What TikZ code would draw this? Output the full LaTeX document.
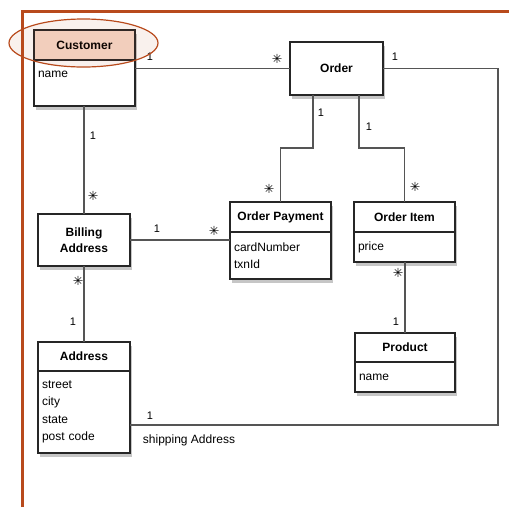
\documentclass[tikz,border=0pt]{standalone}
\usepackage{fontspec}
\setmainfont{Liberation Sans}
\newfontfamily\starfont{DejaVu Sans}
\usetikzlibrary{positioning,shadows}
\definecolor{rust}{RGB}{184,74,28}
\definecolor{peach}{RGB}{247,218,202}
\definecolor{wiregray}{RGB}{85,85,85}

\begin{document}
\begin{tikzpicture}[x=1pt,y=-1pt]
  \tikzstyle{every node}=[font=\fontsize{12}{17.5}\selectfont]
  \tikzstyle{box}=[draw=black!85,line width=1.3pt,fill=white,outer sep=0pt,
    drop shadow={opacity=.45,shadow xshift=1.5pt,shadow yshift=-3.5pt}]
  \tikzstyle{head}=[box,minimum height=30pt,inner sep=0pt,font=\fontsize{12}{16.5}\selectfont\bfseries]
  \tikzstyle{attrs}=[box,align=left,inner xsep=4pt,inner ysep=3pt]
  \tikzstyle{wire}=[draw=wiregray,line width=1.1pt]
  \tikzstyle{one}=[inner sep=0pt,font=\fontsize{11}{12}\selectfont]
  \tikzstyle{many}=[inner sep=0pt,font=\starfont\fontsize{12.5}{12}\selectfont\bfseries]

  \useasboundingbox (0,0) rectangle (509,507);
  \draw[rust,line width=3pt] (22,507) -- (22,11) -- (509,11);

  % classes
  \node[head,fill=peach,minimum width=101pt] (cust) at (84.5,45) {Customer};
  \node[attrs,text width=93pt,minimum height=46pt,text height=9pt,text depth=21pt,below=0pt of cust] (custattr) {name};

  \node[head,minimum width=93pt,minimum height=53pt] (order) at (336.5,68.5) {Order};

  \node[head,minimum width=92pt,minimum height=52pt,align=center] (billing) at (84,240) {Billing\\Address};

  \node[head,minimum width=101pt] (pay) at (280.5,217) {Order Payment};
  \node[attrs,text width=93pt,minimum height=47pt,below=0pt of pay] (payattr) {cardNumber\\txnId};

  \node[head,minimum width=101pt] (item) at (404.5,217) {Order Item};
  \node[attrs,text width=93pt,minimum height=30pt,below=0pt of item] (itemattr) {price};

  \node[head,minimum width=100pt,minimum height=29pt] (prod) at (405,347.5) {Product};
  \node[attrs,text width=92pt,minimum height=30pt,below=0pt of prod] (prodattr) {name};

  \node[head,minimum width=92pt,minimum height=29pt] (addr) at (84,356.5) {Address};
  \node[attrs,text width=84pt,minimum height=82pt,below=0pt of addr] (addrattr) {street\\city\\state\\post code};

  % associations
  \draw[wire] (order.west) -- (order.west -| custattr.east);
  \draw[wire] ([xshift=-23.5pt]order.south) -- ++(0,53) -| (pay.north);
  \draw[wire] ([xshift=22.5pt]order.south) -- ++(0,53) -| (item.north);
  \draw[wire] (prod.north) -- (prod.north |- itemattr.south);
  \draw[wire] (billing.north) -- (billing.north |- custattr.south);
  \draw[wire] (billing.east) -- (billing.east -| payattr.west);
  \draw[wire] (billing.south) -- (addr.north);
  \coordinate (shipcorner) at (498,425);
  \draw[wire] (order.east) -| (shipcorner) -- (shipcorner -| addrattr.east);

  % multiplicities
  \node[one] (m1) at (150,57) {1};
  \node[many] (m2) at (277,59) {✳};
  \node[one] (m3) at (395,57) {1};
  \node[one] (m4) at (321,113) {1};
  \node[one] (m5) at (369,127) {1};
  \node[many] (m6) at (269,189) {✳};
  \node[many] (m7) at (415,187) {✳};
  \node[many] (m8) at (398,273) {✳};
  \node[one] (m9) at (396,322) {1};
  \node[one] (m10) at (93,136) {1};
  \node[many] (m11) at (93,196) {✳};
  \node[one] (m12) at (157,229) {1};
  \node[many] (m13) at (214,231) {✳};
  \node[many] (m14) at (78,281) {✳};
  \node[one] (m15) at (73,322) {1};
  \node[one] (m16) at (150,416) {1};
  \node (ship) at (189,440) {shipping Address};

  % highlight
  \draw[rust,line width=1.2pt,fill=rust,fill opacity=.08] (83.5,43) ellipse [x radius=74.5pt,y radius=24pt];
\end{tikzpicture}
\end{document}
